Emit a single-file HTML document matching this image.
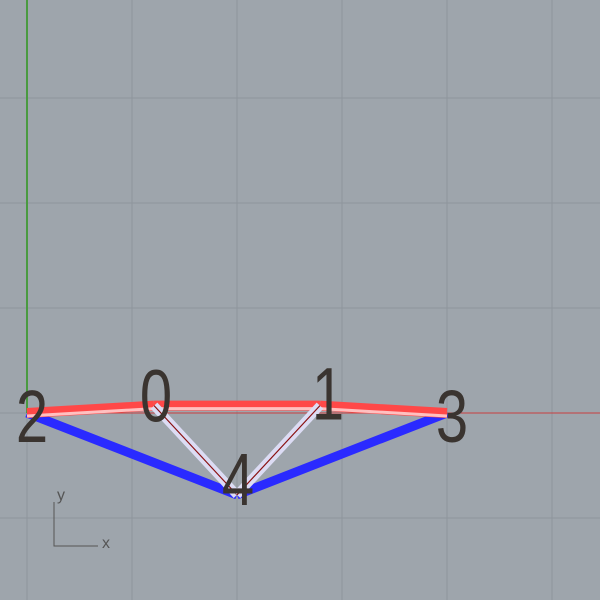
<!DOCTYPE html>
<html><head><meta charset="utf-8"><style>
html,body{margin:0;padding:0;background:#9ea5ac;}
svg{display:block;}
text{font-family:"Liberation Sans","DejaVu Sans",sans-serif;}
</style></head><body>
<svg id="c" width="600" height="600" viewBox="0 0 600 600">
<rect width="600" height="600" fill="#9ea5ac"/>
<g id="grid"></g>
<g id="axes"></g>
<g id="members"></g>
<g id="labels"></g>
<g>
<polyline points="54,502 54,546 98,546" fill="none" stroke="#555" stroke-width="1"/>
<text x="57" y="500" font-size="16" fill="#555">y</text>
<text x="102" y="548" font-size="16" fill="#555">x</text>
</g>
</svg>
<script>
const nodeIds=[0,1,2,3,4];
const nodeX=[1.21,2.79,0,4,2];
const nodeY=[0.07,0.07,0,0,-0.78];
const memberFrom=[2,0,1,2,4,0,1];
const memberTo=[0,1,3,4,3,4,4];
const memberType=["top","top","top","bottom","bottom","diag","diag"];
const gridX=[-0.5,0,1,2,3,4,5];
const gridY=[-1,0,1,2,3,4];
const ox=27,oy=413,s=105;
const labDx=[2,8,5,5,1];
const labDy=[16,14,29,29,10];
const sx=v=>ox+v*s, sy=v=>oy-v*s;
const NS="http://www.w3.org/2000/svg";
function mk(t,a,p){const e=document.createElementNS(NS,t);for(const k in a)e.setAttribute(k,a[k]);p.appendChild(e);return e;}
const g=document.getElementById('grid');
gridX.forEach(v=>{const l=mk('line',{x1:sx(v),x2:sx(v),y1:0,y2:600,stroke:'#8e959c','stroke-width':1},g);

});
gridY.forEach(v=>{const l=mk('line',{x1:0,x2:600,y1:sy(v),y2:sy(v),stroke:'#8e959c','stroke-width':1},g);

});
const a=document.getElementById('axes');
let xa=mk('line',{x1:sx(0),x2:600,y1:sy(0),y2:sy(0),stroke:'#c84040','stroke-width':1},a);


let ya=mk('line',{x1:sx(0),x2:sx(0),y1:0,y2:sy(0),stroke:'#4a9a40','stroke-width':2},a);


const lb=document.getElementById('labels');
nodeIds.forEach((id,i)=>{
 const x=sx(nodeX[i])+labDx[i], y=sy(nodeY[i])+labDy[i];
 const t=mk('text',{x:0,y:0,'font-size':58,fill:'#3a3430','text-anchor':'middle',transform:`translate(${x},${y}) scale(1,1.28)`},lb);
 t.textContent=id;
 
 
});
const m=document.getElementById('members');
const order=[3,4,0,1,2,5,6];
order.forEach(i=>{
 const f=memberFrom[i],t=memberTo[i];
 const x1=sx(nodeX[f]),y1=sy(nodeY[f]),x2=sx(nodeX[t]),y2=sy(nodeY[t]);
 const ty=memberType[i];
 const grp=mk('g',{},m);
 
 
 if(ty==='top'){mk('line',{x1,y1,x2,y2,stroke:'#ff4848','stroke-width':10},grp);
  mk('line',{x1,y1:y1+3,x2,y2:y2+3,stroke:'#ffc0c0','stroke-width':3},grp);}
 else if(ty==='bottom'){mk('line',{x1,y1,x2,y2,stroke:'#2a2aff','stroke-width':9},grp);}
 else{mk('line',{x1,y1,x2,y2,stroke:'#dcdcf4','stroke-width':9},grp);
  mk('line',{x1,y1,x2,y2,stroke:'#8a1010','stroke-width':1.2},grp);}
});
</script>
</body></html>
